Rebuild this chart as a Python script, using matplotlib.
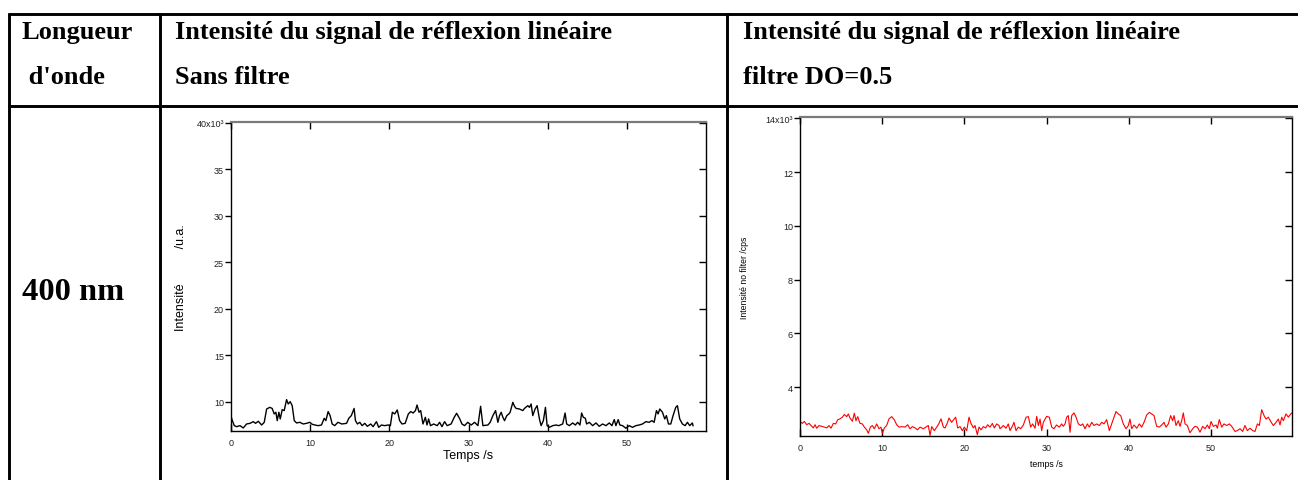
import matplotlib
matplotlib.use("Agg")
import matplotlib.pyplot as plt
from matplotlib.lines import Line2D

# ---- Data (intensities in units of 10^3) ----
t_sans = [0.0, 0.17, 0.42, 0.71, 1.13, 1.55, 1.97, 2.40, 2.82, 3.10, 3.45, 3.87, 4.20,
          4.50, 4.90, 5.20, 5.46, 5.67, 5.84, 6.05, 6.22, 6.47, 6.72, 7.02, 7.23, 7.48,
          7.73, 7.99, 8.28, 8.70, 9.12, 9.54, 9.96, 10.25, 10.60, 11.00, 11.43, 11.77,
          11.98, 12.27, 12.52, 12.78, 13.10, 13.50, 14.00, 14.60, 14.88, 15.20, 15.55,
          15.72, 15.97, 16.27, 16.56, 16.90, 17.23, 17.65, 17.95, 18.37, 18.66, 19.00,
          19.42, 19.84, 20.13, 20.38, 20.68, 21.00, 21.30, 21.60, 22.00, 22.40, 22.70,
          23.00, 23.30, 23.50, 23.75, 23.96, 24.25, 24.55, 24.76, 24.96, 25.20, 25.60,
          26.05, 26.35, 26.65, 26.98, 27.30, 27.80, 28.20, 28.50, 28.90, 29.17, 29.50,
          29.90, 30.35, 30.77, 31.19, 31.53, 31.82, 32.45, 32.74, 33.08, 33.42, 33.71,
          33.92, 34.13, 34.34, 34.55, 34.84, 35.10, 35.26, 35.60, 35.81, 36.02, 36.44,
          36.86, 37.07, 37.49, 37.70, 37.91, 38.12, 38.41, 38.67, 38.96, 39.17, 39.46,
          39.72, 39.93, 40.22, 40.64, 41.06, 41.40, 41.90, 42.20, 42.40, 42.74, 43.16,
          43.50, 43.79, 44.08, 44.29, 44.50, 44.76, 44.92, 45.26, 45.68, 46.10, 46.52,
          46.94, 47.36, 47.78, 48.12, 48.41, 48.62, 48.91, 49.12, 49.46, 49.88, 50.30,
          50.72, 51.14, 51.56, 51.98, 52.40, 52.82, 53.16, 53.45, 53.74, 53.95, 54.16,
          54.50, 54.79, 55.00, 55.26, 55.55, 55.84, 56.18, 56.39, 56.68, 57.02, 57.36,
          57.65, 57.94, 58.28, 58.36]
i_sans = [8.46, 7.99, 7.45, 7.34, 7.45, 7.20, 7.63, 7.70, 7.88, 7.70, 7.92, 7.52, 7.81,
          9.24, 9.42, 9.30, 8.71, 8.89, 7.99, 8.89, 8.17, 9.17, 9.07, 10.25, 9.78, 10.03,
          9.60, 7.99, 7.74, 7.81, 7.63, 7.70, 7.81, 7.60, 7.52, 7.45, 7.52, 8.24,
          7.99, 8.96, 8.53, 7.63, 7.45, 7.81, 7.63, 7.70, 8.24, 8.53, 9.30,
          7.99, 7.63, 7.81, 7.45, 7.70, 7.38, 7.63, 7.34, 7.88, 7.27, 7.52,
          7.45, 7.52, 7.45, 8.89, 8.71, 9.14, 7.99, 7.63, 7.70, 8.71, 8.96,
          8.81, 9.07, 9.67, 8.89, 9.07, 7.63, 8.35, 7.52, 8.17, 7.45, 7.63,
          7.45, 7.81, 7.34, 7.88, 7.45, 7.63, 8.35, 8.78, 8.17, 7.63, 7.45,
          7.81, 7.52, 7.81, 7.45, 9.53, 7.45, 7.52, 7.81, 8.53, 9.07, 7.81,
          8.53, 8.89, 8.35, 7.99, 8.53, 8.71, 8.89, 9.96, 9.53, 9.30, 9.24,
          9.07, 9.30, 9.60, 9.42, 9.78, 8.53, 9.24, 9.60, 8.17, 7.45, 7.99,
          9.42, 7.45, 7.27, 7.45, 7.52, 7.45, 7.63, 8.81, 7.63, 7.45, 7.74,
          7.52, 7.81, 7.52, 8.81, 8.35, 8.24, 7.63, 7.81, 7.45, 7.74, 7.38,
          7.63, 7.45, 7.74, 7.45, 8.10, 7.45, 8.10, 7.52, 7.45, 7.17, 7.45,
          7.27, 7.45, 7.52, 7.63, 7.88, 7.81, 7.99, 7.81, 9.07, 8.71, 9.24,
          8.89, 8.17, 8.53, 7.63, 7.63, 8.53, 9.42, 9.60, 8.17, 7.63, 7.45,
          7.81, 7.45, 7.74, 7.45]

t_do05 = [0.00, 0.28, 0.53, 0.81, 1.10, 1.34, 1.62, 1.83, 2.03, 2.31, 2.64, 2.96, 3.25,
          3.53, 3.77, 4.06, 4.34, 4.58, 4.87, 5.15, 5.39, 5.68, 5.88, 6.08, 6.37, 6.61,
          6.81, 7.02, 7.30, 7.58, 7.83, 8.11, 8.31, 8.56, 8.80, 9.04, 9.33, 9.61, 9.85,
          10.02, 10.26, 10.54, 10.83, 11.15, 11.48, 11.76, 12.04, 12.37, 12.77, 13.10,
          13.38, 13.67, 14.00, 14.30, 14.60, 15.00, 15.30, 15.61, 15.82, 16.02, 16.34,
          16.63, 16.91, 17.15, 17.44, 17.64, 17.88, 18.13, 18.45, 18.77, 18.94, 19.18,
          19.46, 19.75, 19.99, 20.28, 20.56, 20.80, 21.09, 21.29, 21.57, 21.78, 22.02,
          22.30, 22.59, 22.83, 23.11, 23.40, 23.64, 23.93, 24.21, 24.33, 24.74, 25.06,
          25.34, 25.55, 25.87, 26.03, 26.28, 26.56, 26.84, 27.17, 27.50, 27.78, 28.06,
          28.30, 28.59, 28.79, 29.00, 29.20, 29.40, 29.60, 30.00, 30.33, 30.62, 30.90,
          31.20, 31.55, 31.83, 32.03, 32.24, 32.44, 32.64, 32.85, 33.05, 33.33, 33.58,
          33.86, 34.14, 34.39, 34.67, 34.95, 35.20, 35.48, 35.77, 36.09, 36.41, 36.70,
          36.98, 37.30, 37.63, 37.91, 38.20, 38.44, 38.72, 39.01, 39.33, 39.66, 39.94,
          40.14, 40.35, 40.63, 40.96, 41.28, 41.56, 41.85, 42.17, 42.50, 42.78, 43.06,
          43.39, 43.71, 44.00, 44.28, 44.52, 44.81, 45.09, 45.33, 45.50, 45.74, 46.02,
          46.23, 46.43, 46.63, 46.84, 47.12, 47.44, 47.77, 48.05, 48.34, 48.66, 48.98,
          49.27, 49.55, 49.80, 50.00, 50.28, 50.61, 50.77, 51.01, 51.30, 51.58, 51.90,
          52.23, 52.51, 52.92, 53.20, 53.53, 53.85, 54.13, 54.42, 54.74, 55.07, 55.35,
          55.64, 55.88, 56.16, 56.45, 56.69, 56.97, 57.26, 57.58, 57.91, 58.19, 58.39,
          58.60, 58.80, 59.12, 59.41, 59.69, 59.85]
i_do05 = [2.72, 2.65, 2.72, 2.60, 2.65, 2.57, 2.48, 2.60, 2.47, 2.57, 2.54, 2.51, 2.48,
          2.57, 2.47, 2.65, 2.63, 2.78, 2.82, 2.88, 2.98, 2.90, 3.00, 2.85, 2.73, 3.03,
          2.75, 2.90, 2.65, 2.63, 2.51, 2.41, 2.28, 2.51, 2.57, 2.45, 2.63, 2.45, 2.51,
          2.28, 2.48, 2.57, 2.82, 2.90, 2.78, 2.60, 2.51, 2.53, 2.51, 2.60,
          2.45, 2.53, 2.48, 2.41, 2.51, 2.45, 2.51, 2.57, 2.20, 2.53, 2.38,
          2.51, 2.65, 2.82, 2.51, 2.48, 2.63, 2.85, 2.69, 2.82, 2.88, 2.48,
          2.53, 2.38, 2.51, 2.38, 2.88, 2.65, 2.48, 2.57, 2.23, 2.51, 2.41,
          2.53, 2.48, 2.60, 2.51, 2.65, 2.48, 2.63, 2.57, 2.45, 2.57, 2.47,
          2.63, 2.38, 2.57, 2.69, 2.38, 2.51, 2.45, 2.59, 2.88, 2.90, 2.51,
          2.63, 2.47, 2.91, 2.57, 2.81, 2.38, 2.69, 2.91, 2.88, 2.51, 2.45,
          2.59, 2.51, 2.63, 2.54, 2.63, 2.88, 2.94, 2.32, 2.94, 3.04, 2.88,
          2.63, 2.57, 2.63, 2.45, 2.63, 2.51, 2.69, 2.57, 2.63, 2.57, 2.69,
          2.63, 2.79, 2.38, 2.63, 2.88, 3.09, 3.00, 2.94, 2.63, 2.45, 2.57,
          2.81, 2.45, 2.59, 2.47, 2.63, 2.51, 2.69, 2.96, 3.06, 3.00, 2.94,
          2.54, 2.51, 2.59, 2.69, 2.51, 2.63, 2.94, 2.75, 2.94, 2.57, 2.75,
          2.54, 2.75, 3.04, 2.63, 2.57, 2.30, 2.45, 2.54, 2.51, 2.32, 2.54,
          2.45, 2.59, 2.45, 2.72, 2.54, 2.59, 2.47, 2.79, 2.51, 2.63, 2.57,
          2.63, 2.54, 2.35, 2.38, 2.45, 2.35, 2.57, 2.38, 2.47, 2.38, 2.35,
          2.63, 2.57, 3.16, 2.94, 2.81, 2.88, 2.72, 2.57, 2.69, 2.81, 2.59,
          2.88, 2.75, 3.00, 2.88, 3.00, 3.04]

ticks_sans = [10, 15, 20, 25, 30, 35, 40]
ticklabels_sans = ["10", "15", "20", "25", "30", "35", "40x10³"]
ticks_do05 = [4, 6, 8, 10, 12, 14]
ticklabels_do05 = ["4", "6", "8", "10", "12", "14x10³"]
xticks = [0, 10, 20, 30, 40, 50]

header_col1 = ["Longueur", " d'onde"]
header_col2 = ["Intensité du signal de réflexion linéaire", "Sans filtre"]
header_col3 = ["Intensité du signal de réflexion linéaire", "filtre DO=0.5"]
row_label = "400 nm"

W, H = 1298, 481
fig = plt.figure(figsize=(W / 100, H / 100), dpi=100)
fig.patch.set_facecolor("white")


def fx(px):
    return px / W


def fy(py):
    return 1 - py / H


# ---- Table grid ----
def hline(y, x0, x1):
    fig.add_artist(Line2D([fx(x0), fx(x1)], [fy(y), fy(y)], transform=fig.transFigure,
                          color="black", lw=2.1, solid_capstyle="butt"))


def vline(x, y0, y1):
    fig.add_artist(Line2D([fx(x), fx(x)], [fy(y0), fy(y1)], transform=fig.transFigure,
                          color="black", lw=2.1, solid_capstyle="butt"))


hline(15, 8, W)
hline(107, 8, W)
vline(9, 14, H)
vline(160, 14, H)
vline(727, 14, H)

serif = "Liberation Serif"
hdr_size = 19.0
for i, line in enumerate(header_col1):
    fig.text(fx(22), fy(33 + 45 * i), line, family=serif, weight="bold",
             size=hdr_size, ha="left", va="center")
for i, line in enumerate(header_col2):
    fig.text(fx(175), fy(33 + 45 * i), line, family=serif, weight="bold",
             size=hdr_size, ha="left", va="center")
for i, line in enumerate(header_col3):
    fig.text(fx(743), fy(33 + 45 * i), line, family=serif, weight="bold",
             size=hdr_size, ha="left", va="center")
fig.text(fx(22), fy(293), row_label, family=serif, weight="bold", size=23.4,
         ha="left", va="center")

sans = "Liberation Sans"


def style_axes(ax, yticks, ylabels, ylim, xlim, tick_size):
    ax.set_xlim(*xlim)
    ax.set_ylim(*ylim)
    ax.set_yticks(yticks)
    ax.set_yticklabels(ylabels, family=sans, size=tick_size, color="#222222")
    ax.set_xticks(xticks)
    ax.set_xticklabels([str(v) for v in xticks], family=sans, size=tick_size,
                       color="#222222")
    ax.tick_params(axis="y", which="both", direction="out", length=4, width=1,
                   pad=1, left=True, right=False)
    ax.tick_params(axis="x", which="both", direction="in", length=5, width=1,
                   pad=5, bottom=True, top=False)
    # Mirror ticks on top and right, pointing inward, without labels
    top = ax.secondary_xaxis("top")
    top.set_xticks(xticks)
    top.tick_params(direction="in", length=5, width=1, labeltop=False)
    top.spines["top"].set_visible(False)
    right = ax.secondary_yaxis("right")
    right.set_yticks(yticks)
    right.tick_params(direction="in", length=5, width=1, labelright=False)
    right.spines["right"].set_visible(False)
    for side in ("left", "bottom", "right"):
        ax.spines[side].set_color("black")
        ax.spines[side].set_linewidth(1.0)
    ax.spines["top"].set_color("#7a7a7a")
    ax.spines["top"].set_linewidth(1.6)


# ---- Left plot: without filter ----
ax1 = fig.add_axes([fx(231), fy(432), fx(706) - fx(231), fy(123) - fy(432)])
ax1.plot(t_sans, i_sans, color="black", lw=1.0)
style_axes(ax1, ticks_sans, ticklabels_sans, (6.875, 40.1), (0, 60), 6.5)
ax1.set_ylabel("Intensité          /u.a.", family=sans, size=9, va="center")
ax1.yaxis.set_label_coords(-0.105, 0.5)
ax1.set_xlabel("Temps /s", family=sans, size=9, va="center")
ax1.xaxis.set_label_coords(0.5, -0.078)

# ---- Right plot: filter DO=0.5 ----
ax2 = fig.add_axes([fx(800), fy(437), fx(1292) - fx(800), fy(118) - fy(437)])
ax2.plot(t_do05, i_do05, color="red", lw=0.8)
style_axes(ax2, ticks_do05, ticklabels_do05, (2.18, 14.05), (0, 59.85), 6.5)
ax2.set_ylabel("Intensité no filter /cps", family=sans, size=6.2, va="center")
ax2.yaxis.set_label_coords(-0.112, 0.5)
ax2.set_xlabel("temps /s", family=sans, size=6.3, va="center")
ax2.xaxis.set_label_coords(0.5, -0.085)

fig.savefig("out.png", dpi=100, facecolor="white")
